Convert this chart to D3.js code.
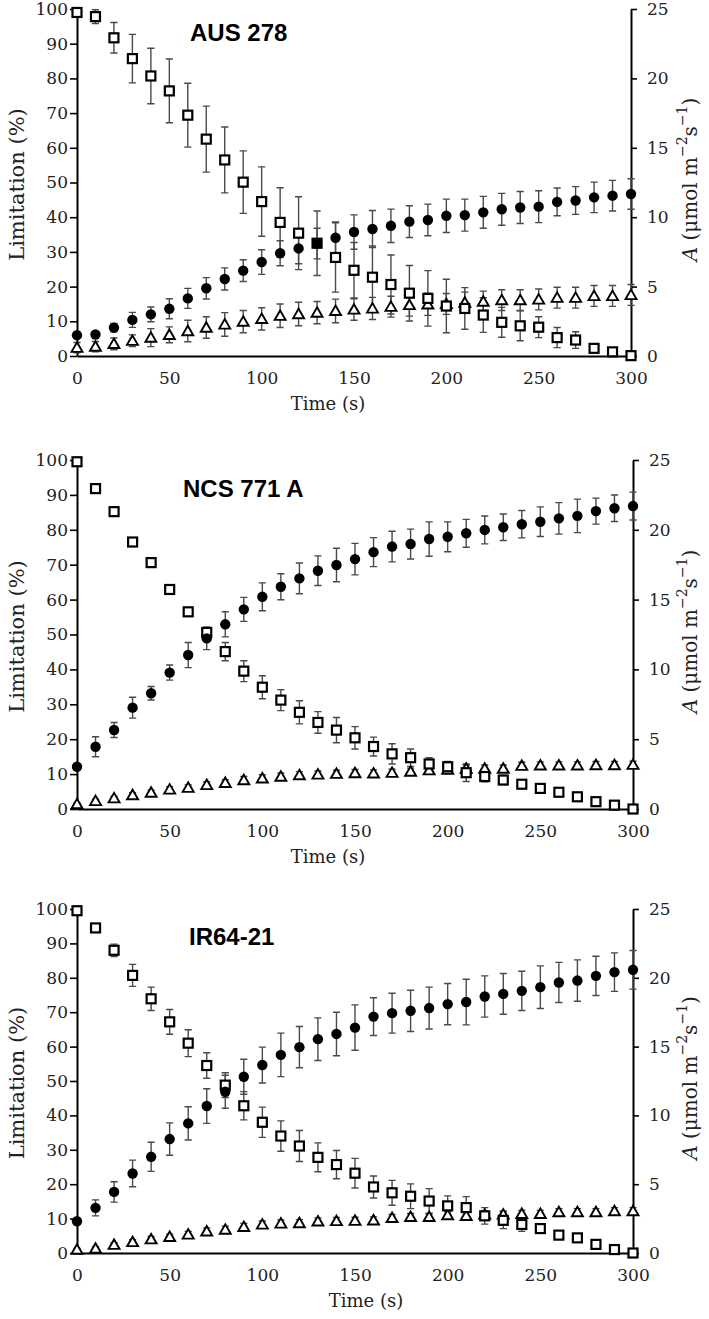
<!DOCTYPE html>
<html>
<head>
<meta charset="UTF-8">
<script src="https://d3js.org/d3.v7.min.js"></script>
<style>
  body { margin: 0; background: #fff; }
  svg { display: block; }
  .tick text { font-family: "DejaVu Serif", serif; font-size: 17px; fill: #222; }
  .lbl { font-family: "DejaVu Serif", serif; fill: #222; }
  .ttl { font-family: "Liberation Sans", Arial, sans-serif; font-weight: bold; font-size: 24px; fill: #000; }
</style>
</head>
<body>
<div id="chart"></div>
<script>
// time points (s)
const times = [0, 10, 20, 30, 40, 50, 60, 70, 80, 90, 100, 110, 120, 130, 140, 150,
               160, 170, 180, 190, 200, 210, 220, 230, 240, 250, 260, 270, 280, 290, 300];

// AUS 278
const ausSq      = [99, 97.8, 91.7, 85.7, 80.7, 76.4, 69.4, 62.5, 56.5, 50.1, 44.5, 38.5, 35.4, 32.5, 28.4, 24.7, 22.7, 20.6, 18.1, 16.6, 14.4, 13.7, 11.8, 9.7, 8.7, 8.3, 5.3, 4.6, 2.2, 1.2, 0.1];
const ausSqErr   = [0, 2, 4.4, 7, 8, 9.2, 9.2, 9.5, 9.5, 9, 10, 10, 10.5, 9.3, 10, 8, 9, 8.5, 8, 8, 7.7, 6, 5, 4.3, 4.3, 3, 2.9, 2.4, 1, 0.5, 0];
const ausCirc    = [1.5, 1.55, 2.04, 2.6, 3.0, 3.4, 4.15, 4.88, 5.55, 6.15, 6.77, 7.4, 7.75, 8.1, 8.52, 8.93, 9.15, 9.38, 9.68, 9.8, 10.1, 10.15, 10.35, 10.57, 10.7, 10.76, 11.1, 11.2, 11.43, 11.55, 11.67];
const ausCircErr = [0.1, 0.15, 0.3, 0.54, 0.53, 0.72, 0.72, 0.77, 0.8, 0.78, 0.89, 0.9, 1.1, 1.1, 1.14, 1.24, 1.33, 1.2, 1.14, 1.14, 1.2, 1.15, 1.15, 1.15, 1.15, 1.15, 1.0, 1.0, 1.1, 1.1, 1.1];
const ausTri     = [2.4, 2.7, 3.5, 4.4, 5.3, 6.1, 7.2, 8.2, 9.1, 9.9, 10.7, 11.6, 12.1, 12.5, 13, 13.4, 13.7, 14.2, 14.7, 14.9, 15, 15.4, 15.7, 16.1, 16.1, 16.3, 16.8, 16.8, 17.3, 17.3, 17.6];
const ausTriErr  = [1.5, 1.5, 1.7, 1.7, 2.6, 2.3, 3.1, 3.1, 3.4, 3.2, 3.2, 3.4, 3.4, 3.2, 3.4, 3.1, 3.2, 3.0, 3.2, 3.2, 3.0, 3.0, 3.0, 3.0, 3.0, 3.0, 3.0, 3.0, 3.0, 3.0, 3.0];

// NCS 771 A
const ncsSq      = [99.5, 91.8, 85.2, 76.5, 70.6, 62.9, 56.5, 50.6, 45.1, 39.5, 34.9, 31.2, 27.7, 24.8, 22.6, 20.4, 17.9, 15.8, 14.7, 12.9, 12.1, 10.4, 9.3, 8.3, 7.1, 5.9, 4.8, 3.5, 2.1, 1.1, 0];
const ncsSqErr   = [0, 0.5, 0.5, 0.5, 0.5, 0.8, 1, 1.4, 2.6, 3, 3.3, 3, 3.3, 3.1, 3.6, 3.2, 2.7, 2.9, 2.5, 1.8, 1.5, 2.5, 1.5, 1.3, 0.5, 0.5, 0.5, 0.5, 0.5, 0.3, 0];
const ncsCirc    = [3.03, 4.46, 5.66, 7.26, 8.29, 9.77, 11.03, 12.22, 13.23, 14.3, 15.2, 15.92, 16.52, 17.07, 17.48, 17.9, 18.4, 18.8, 18.98, 19.34, 19.5, 19.75, 19.99, 20.18, 20.4, 20.58, 20.82, 21.0, 21.34, 21.54, 21.7];
const ncsCircErr = [0.1, 0.72, 0.54, 0.75, 0.48, 0.54, 0.9, 0.8, 0.9, 0.86, 1.0, 0.93, 1.1, 1.06, 1.2, 1.13, 1.04, 1.1, 1.07, 1.23, 1.07, 1.0, 1.0, 0.95, 0.98, 1.06, 1.13, 1.2, 0.93, 0.95, 1.0];
const ncsTri     = [1.4, 2.3, 3.1, 4.0, 4.7, 5.6, 6.1, 6.9, 7.5, 8.3, 8.8, 9.3, 9.7, 9.9, 10.1, 10.3, 10.2, 10.4, 10.7, 11.1, 11.3, 11.6, 11.6, 11.6, 12.4, 12.5, 12.5, 12.5, 12.6, 12.6, 12.7];
const ncsTriErr  = [0.3, 0.5, 0.6, 0.7, 0.7, 0.8, 0.8, 0.9, 0.9, 1, 1, 1, 1, 1, 1, 1, 1, 1, 1, 1, 1, 1, 1, 1, 1, 1, 1, 1, 1, 1, 1];

// IR64-21
const irSq       = [99.5, 94.5, 88, 80.7, 73.9, 67.2, 61, 54.5, 48.8, 42.8, 38, 34, 31.1, 27.8, 25.7, 23.2, 19.2, 17.5, 16.5, 15.1, 13.7, 13.2, 10.8, 9.5, 8.3, 7.1, 5.2, 4.4, 2.5, 1.0, 0];
const irSqErr    = [0, 1, 1.8, 3.2, 3.4, 3.6, 3.9, 3.7, 3.6, 4.1, 4.4, 4.4, 4.5, 4.2, 4.1, 4.3, 3.2, 3.6, 3.6, 3.6, 2.9, 3.2, 2.4, 2.4, 2, 1, 1, 0.5, 0.5, 0.3, 0];
const irCirc     = [2.31, 3.28, 4.44, 5.78, 6.99, 8.28, 9.42, 10.68, 11.72, 12.81, 13.66, 14.4, 14.96, 15.54, 15.92, 16.38, 17.18, 17.43, 17.6, 17.8, 18.09, 18.24, 18.64, 18.83, 19.05, 19.32, 19.66, 19.8, 20.14, 20.41, 20.58];
const irCircErr  = [0.1, 0.58, 0.74, 0.97, 1.06, 1.18, 1.21, 1.26, 1.2, 1.27, 1.3, 1.58, 1.5, 1.55, 1.58, 1.65, 1.37, 1.45, 1.5, 1.52, 1.5, 1.66, 1.5, 1.48, 1.43, 1.55, 1.46, 1.5, 1.43, 1.4, 1.4];
const irTri      = [1.0, 1.3, 2.4, 3.2, 4.0, 4.7, 5.4, 6.3, 6.8, 7.6, 8.3, 8.6, 8.7, 9.2, 9.3, 9.4, 9.5, 10.2, 10.5, 10.5, 11.0, 10.8, 11.2, 11.2, 11.4, 11.4, 11.9, 11.9, 11.9, 12.2, 12.2];
const irTriErr   = [0.3, 0.5, 0.6, 0.7, 0.8, 0.8, 0.9, 1, 1, 1, 1, 1, 1, 1, 1, 1, 1, 1, 1, 1, 1, 1, 1, 1, 1, 1, 1, 1, 1, 1, 1];

const leftTicks  = [0, 10, 20, 30, 40, 50, 60, 70, 80, 90, 100];
const rightTicks = [0, 5, 10, 15, 20, 25];
const timeTicks  = [0, 50, 100, 150, 200, 250, 300];

// panel layout
const panels = [
  { title: "AUS 278",   tx: 190, ty: 32,  top: 9,   bottom: 356,  left: 77, right: 631, timeX: 328,
    sq: ausSq, sqErr: ausSqErr, circ: ausCirc, circErr: ausCircErr, tri: ausTri, triErr: ausTriErr },
  { title: "NCS 771 A", tx: 183, ty: 488, top: 460, bottom: 809,  left: 77, right: 633, timeX: 328,
    sq: ncsSq, sqErr: ncsSqErr, circ: ncsCirc, circErr: ncsCircErr, tri: ncsTri, triErr: ncsTriErr },
  { title: "IR64-21",   tx: 189, ty: 936, top: 909, bottom: 1253, left: 77, right: 633, timeX: 366,
    sq: irSq, sqErr: irSqErr, circ: irCirc, circErr: irCircErr, tri: irTri, triErr: irTriErr }
];

const svg = d3.select("#chart").append("svg")
  .attr("width", 709).attr("height", 1319);

const errColor = "#4a4a4a";

panels.forEach(p => {
  const g = svg.append("g");
  const x = d3.scaleLinear().domain([0, 300]).range([p.left, p.right]);
  const yL = d3.scaleLinear().domain([0, 100]).range([p.bottom, p.top]);
  const yR = d3.scaleLinear().domain([0, 25]).range([p.bottom, p.top]);

  // axes
  const ax = g.append("g").attr("transform", `translate(${p.left},0)`)
    .call(d3.axisLeft(yL).tickValues(leftTicks).tickSize(7).tickSizeOuter(0).tickPadding(2));
  const axR = g.append("g").attr("transform", `translate(${p.right},0)`)
    .call(d3.axisRight(yR).tickValues(rightTicks).tickSize(6).tickSizeOuter(0).tickPadding(10));
  const axB = g.append("g").attr("transform", `translate(0,${p.bottom})`)
    .call(d3.axisBottom(x).tickValues(timeTicks).tickSize(0).tickPadding(16));
  [ax, axR, axB].forEach(a => {
    a.select(".domain").attr("stroke", "#000").attr("stroke-width", 2);
    a.selectAll(".tick line").attr("stroke", "#000").attr("stroke-width", 1.6);
  });

  // axis titles
  const midY = (p.top + p.bottom) / 2;
  g.append("text").attr("class", "lbl")
    .attr("transform", `translate(17,${midY + 2}) rotate(-90)`)
    .attr("text-anchor", "middle").attr("dominant-baseline", "central")
    .style("font-size", "21px").text("Limitation (%)");

  const rl = g.append("text").attr("class", "lbl")
    .attr("transform", `translate(690,${midY - 3}) rotate(-90)`)
    .attr("text-anchor", "middle").attr("dominant-baseline", "central")
    .style("font-size", "20px");
  rl.append("tspan").style("font-style", "italic").text("A");
  rl.append("tspan").text(" (μmol m");
  rl.append("tspan").attr("baseline-shift", "super").style("font-size", "14px").text("−2");
  rl.append("tspan").text("s");
  rl.append("tspan").attr("baseline-shift", "super").style("font-size", "14px").text("−1");
  rl.append("tspan").text(")");

  g.append("text").attr("class", "lbl")
    .attr("x", p.timeX).attr("y", p.bottom + 54)
    .attr("text-anchor", "middle").style("font-size", "18px").text("Time (s)");

  g.append("text").attr("class", "ttl")
    .attr("x", p.tx).attr("y", p.ty).attr("dominant-baseline", "central")
    .text(p.title);

  // error bars
  const bars = [];
  times.forEach((t, i) => {
    bars.push({ t, lo: yL(p.tri[i] - p.triErr[i]), hi: yL(p.tri[i] + p.triErr[i]) });
    bars.push({ t, lo: yL(p.sq[i] - p.sqErr[i]), hi: yL(p.sq[i] + p.sqErr[i]) });
    bars.push({ t, lo: yR(p.circ[i] - p.circErr[i]), hi: yR(p.circ[i] + p.circErr[i]) });
  });
  const eb = g.append("g").attr("stroke", errColor).attr("stroke-width", 1.4).attr("fill", "none");
  eb.selectAll("path").data(bars).join("path")
    .attr("d", d => {
      const cx = x(d.t), c = 3.6;
      return `M${cx},${d.lo}V${d.hi}M${cx - c},${d.hi}H${cx + c}M${cx - c},${d.lo}H${cx + c}`;
    });

  // triangles
  const triSym = d3.symbol().type(d3.symbolTriangle).size(52);
  g.append("g").selectAll("path").data(times).join("path")
    .attr("transform", (t, i) => `translate(${x(t)},${yL(p.tri[i]) + 1})`)
    .attr("d", triSym)
    .attr("fill", "#fff").attr("stroke", "#000").attr("stroke-width", 1.9);

  // squares
  const s = 9;
  g.append("g").selectAll("rect").data(times).join("rect")
    .attr("x", t => x(t) - s / 2)
    .attr("y", (t, i) => yL(p.sq[i]) - s / 2)
    .attr("width", s).attr("height", s)
    .attr("fill", "#fff").attr("stroke", "#000").attr("stroke-width", 2.2);

  // circles
  g.append("g").selectAll("circle").data(times).join("circle")
    .attr("cx", t => x(t))
    .attr("cy", (t, i) => yR(p.circ[i]))
    .attr("r", 5.2)
    .attr("fill", "#000");
});
</script>
</body>
</html>
